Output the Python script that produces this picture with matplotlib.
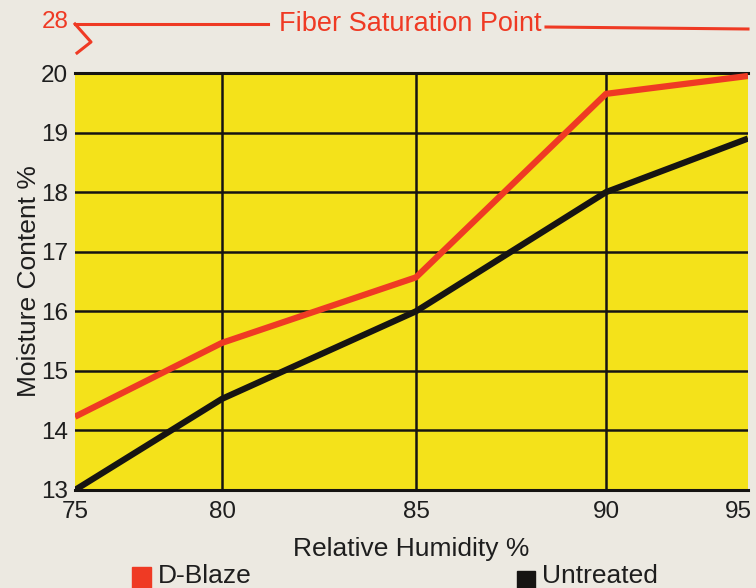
import numpy as np
import matplotlib
matplotlib.use("Agg")
import matplotlib.pyplot as plt
from matplotlib.lines import Line2D
from matplotlib.patches import Rectangle
from matplotlib.transforms import ScaledTranslation

plt.rcParams['font.family'] = ['Liberation Sans', 'DejaVu Sans']

# data
humidity = [75, 80, 85, 90, 95]
d_blaze = [14.23, 15.47, 16.57, 19.65, 19.95]
untreated = [13.0, 14.53, 16.0, 18.0, 18.9]
y_ticks = [13, 14, 15, 16, 17, 18, 19, 20]

# the printed chart spaces the humidity ticks unevenly
tick_spacing = [0, 147, 341, 531, 673]

PAPER = '#ece9e1'
YELLOW = '#f4e21a'
RED = '#ef3a24'
BLACK = '#161412'
TEXT = '#1e1e1e'


def fwd(x):
    return np.interp(x, humidity, tick_spacing)


def inv(p):
    return np.interp(p, tick_spacing, humidity)


def px(x, y):
    # pixel position (from top-left) -> figure fraction
    return x / 756, 1 - y / 588


fig = plt.figure(figsize=(7.56, 5.88), dpi=100, facecolor=PAPER)
ax = fig.add_axes([75 / 756, 1 - 490 / 588, 673 / 756, 417 / 588])
ax.set_facecolor(YELLOW)
ax.set_xscale('function', functions=(fwd, inv))
ax.set_xlim(75, 95)
ax.set_ylim(13, 20)

# grid
for y in y_ticks[1:-1]:
    ax.axhline(y, color=BLACK, lw=1.8, zorder=1)
for x in humidity[1:-1]:
    ax.axvline(x, color=BLACK, lw=1.8, zorder=1)

ax.plot(humidity, d_blaze, color=RED, lw=4.5, solid_capstyle='butt', zorder=3)
ax.plot(humidity, untreated, color=BLACK, lw=4.5, solid_capstyle='butt', zorder=3)

for side in ['left', 'right']:
    ax.spines[side].set_visible(False)
for side in ['top', 'bottom']:
    ax.spines[side].set_color(BLACK)
    ax.spines[side].set_linewidth(2.2)

ax.set_xticks(humidity)
ax.set_yticks(y_ticks)
ax.tick_params(length=0, labelsize=17.5, colors=TEXT)
ax.tick_params(axis='x', pad=8)
ax.tick_params(axis='y', pad=5)

# last x label sits a little inside the right edge
last = ax.get_xticklabels()[-1]
last.set_transform(last.get_transform() + ScaledTranslation(-10 / 100, 0, fig.dpi_scale_trans))

ax.set_xlabel('Relative Humidity %', fontsize=19, color=TEXT, labelpad=10)
ax.set_ylabel('Moisture Content %', fontsize=19, color=TEXT, labelpad=0)

# fiber saturation point marker (axis break up to 28)
fig.text(*px(55, 22), '28', color=RED, fontsize=17.5, ha='center', va='center')
fig.add_artist(Line2D([px(75, 0)[0], px(268, 0)[0]], [px(0, 24)[1], px(0, 24)[1]],
                      color=RED, lw=2.2))
zx, zy = zip(px(75, 24), px(91, 42), px(77, 53))
fig.add_artist(Line2D(zx, zy, color=RED, lw=2.2))
fig.text(*px(410, 24), 'Fiber Saturation Point', color=RED, fontsize=19.5,
         ha='center', va='center')
fig.add_artist(Line2D([px(546, 0)[0], px(748, 0)[0]], [px(0, 27)[1], px(0, 29)[1]],
                      color=RED, lw=2.2))

# legend along the bottom
fig.add_artist(Rectangle(px(132, 590), 19 / 756, 23 / 588, color=RED,
                         transform=fig.transFigure))
fig.text(*px(158, 583), 'D-Blaze', fontsize=19, color=TEXT, va='baseline')
fig.add_artist(Rectangle(px(517, 590), 18 / 756, 19 / 588, color=BLACK,
                         transform=fig.transFigure))
fig.text(*px(542, 583), 'Untreated', fontsize=19, color=TEXT, va='baseline')

fig.savefig('out.png', dpi=100, facecolor=PAPER)
